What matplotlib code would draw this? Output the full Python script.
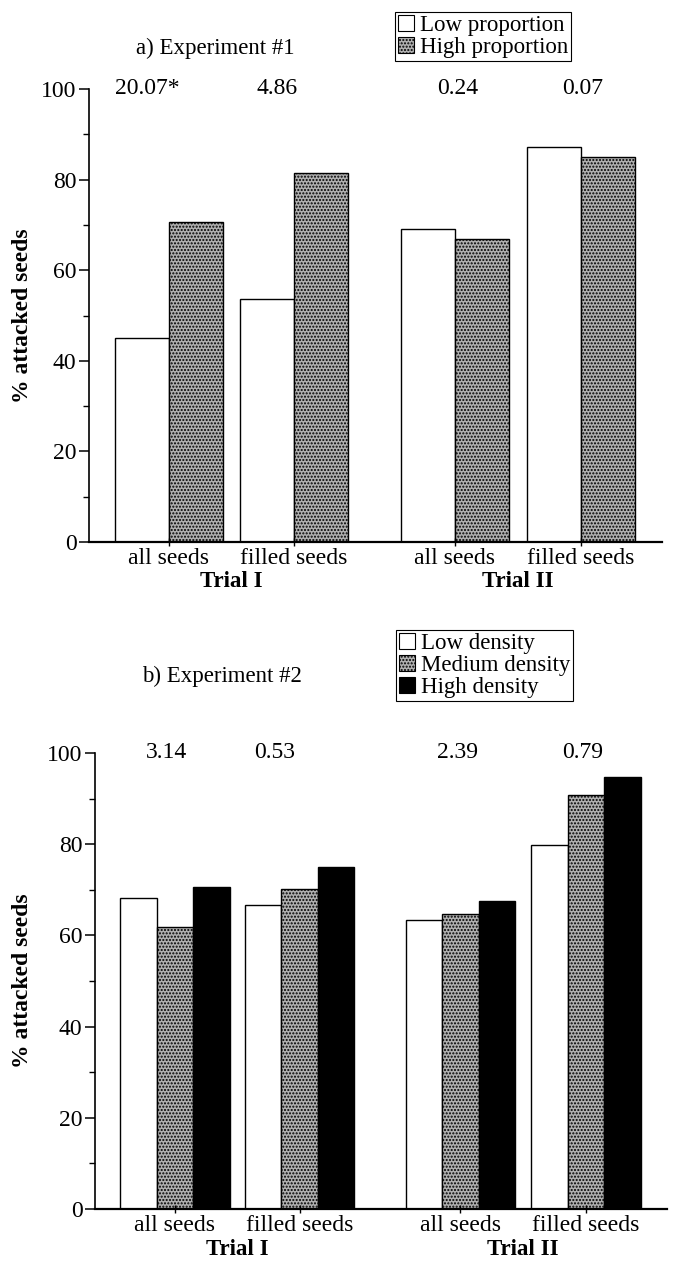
import numpy as np
import matplotlib
matplotlib.use("Agg")
import matplotlib.pyplot as plt
from matplotlib.patches import Patch
from matplotlib.ticker import MultipleLocator

# data
categories = ["all seeds", "filled seeds", "all seeds", "filled seeds"]
trials = ["Trial I", "Trial II"]

exp1_labels = ["Low proportion", "High proportion"]
exp1_low = [45.1, 53.6, 69.1, 87.2]
exp1_high = [70.6, 81.4, 66.9, 84.9]
exp1_stats = ["20.07*", "4.86", "0.24", "0.07"]

exp2_labels = ["Low density", "Medium density", "High density"]
exp2_low = [68.1, 66.6, 63.4, 79.8]
exp2_med = [61.8, 70.1, 64.7, 90.7]
exp2_high = [70.7, 75.1, 67.6, 94.7]
exp2_stats = ["3.14", "0.53", "2.39", "0.79"]

# layout (x in axis units, 1 unit ~ 100 px)
group_x = np.array([0.80, 2.05, 3.66, 4.92])
stat_x_a = [0.58, 1.88, 3.69, 4.94]
stat_x_b = [0.72, 1.80, 3.63, 4.88]

plt.rcParams['font.family'] = ['Liberation Serif', 'DejaVu Serif']
plt.rcParams['hatch.color'] = 'black'
plt.rcParams['hatch.linewidth'] = 1.0

W, H = 678, 1261
FS = 17
fig = plt.figure(figsize=(W / 100, H / 100), dpi=100)

stipple = dict(facecolor='#b0b0b0', hatch='.....')
styles_a = [dict(facecolor='white', hatch=None), stipple]
styles_b = [dict(facecolor='white', hatch=None), stipple,
            dict(facecolor='black', hatch=None)]


def style_axes(ax):
    ax.set_xlim(0, 5.73)
    ax.set_ylim(0, 100)
    for s in ['top', 'right']:
        ax.spines[s].set_visible(False)
    ax.spines['left'].set_linewidth(1.2)
    ax.spines['bottom'].set_linewidth(1.6)
    ax.yaxis.set_major_locator(MultipleLocator(20))
    ax.yaxis.set_minor_locator(MultipleLocator(10))
    ax.tick_params(axis='y', which='major', direction='out', length=7, width=1.1,
                   labelsize=FS, pad=2)
    ax.tick_params(axis='y', which='minor', direction='out', length=4, width=1.0)
    ax.set_xticks(group_x)
    ax.set_xticklabels(categories)
    ax.tick_params(axis='x', direction='inout', length=6, width=1.0,
                   labelsize=FS, pad=1)
    ax.set_ylabel("% attacked seeds", fontsize=FS, fontweight='bold')
    for i, t in enumerate(trials):
        cx = group_x[2 * i:2 * i + 2].mean()
        ax.text(cx, -0.088, t, transform=ax.get_xaxis_transform(), ha='center',
                va='center', fontsize=16.5, fontweight='bold')


def legend(ax, labels, styles, x, y):
    handles = [Patch(edgecolor='black', linewidth=0.8, **st) for st in styles]
    lg = ax.legend(handles, labels, loc='upper left', bbox_to_anchor=(x, y),
                   bbox_transform=fig.transFigure, fontsize=16.5, frameon=True,
                   fancybox=False, framealpha=1, edgecolor='black',
                   handlelength=0.7, handleheight=0.7, handletextpad=0.25,
                   borderpad=0.12, labelspacing=0.05, borderaxespad=0)
    lg.get_frame().set_linewidth(0.8)


# panel a
ax1 = fig.add_axes([89 / W, 1 - 542 / H, 573 / W, 453 / H])
wa = 0.54
series_a = [exp1_low, exp1_high]
for k, vals in enumerate(series_a):
    off = (k - 0.5) * wa
    ax1.bar(group_x + off, vals, width=wa, edgecolor='black', linewidth=1.0,
            **styles_a[k])
style_axes(ax1)
for xs, s in zip(stat_x_a, exp1_stats):
    ax1.text(xs, 100, s, ha='center', va='center', fontsize=FS)
legend(ax1, exp1_labels, styles_a, 395 / W, 1 - 12 / H)
fig.text(215 / W, 1 - 48 / H, "a) Experiment #1", ha='center', va='center',
         fontsize=16.5)

# panel b
ax2 = fig.add_axes([95 / W, 1 - 1209 / H, 572 / W, 456 / H])
wb = 0.365
series_b = [exp2_low, exp2_med, exp2_high]
for k, vals in enumerate(series_b):
    off = (k - 1) * wb
    ax2.bar(group_x + off, vals, width=wb, edgecolor='black', linewidth=1.0,
            **styles_b[k])
style_axes(ax2)
for xs, s in zip(stat_x_b, exp2_stats):
    ax2.text(xs, 100, s, ha='center', va='center', fontsize=FS)
legend(ax2, exp2_labels, styles_b, 396 / W, 1 - 630 / H)
fig.text(222 / W, 1 - 676 / H, "b) Experiment #2", ha='center', va='center',
         fontsize=16.5)

ax1.yaxis.set_label_coords(-0.098, 0.5)
ax2.yaxis.set_label_coords(-0.108, 0.5)

fig.savefig("out.png", dpi=100)
